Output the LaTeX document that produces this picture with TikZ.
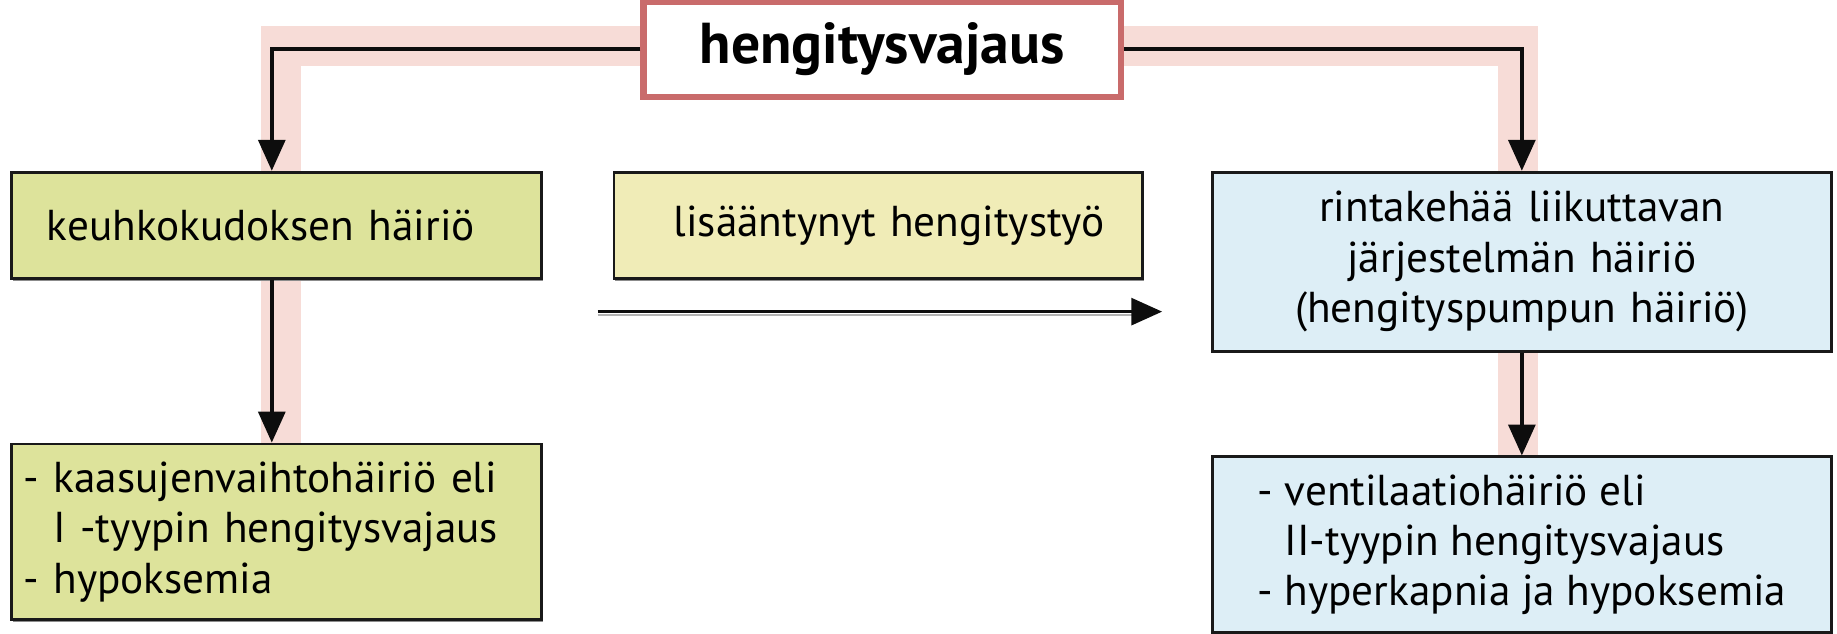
\documentclass[tikz,border=0pt]{standalone}
\usepackage{fontspec}
\setmainfont{PT Sans}
\usetikzlibrary{arrows.meta,shadows,backgrounds}
\definecolor{bandpink}{HTML}{F7DCD7}
\definecolor{titlered}{HTML}{C96B6B}
\definecolor{lunggreen}{HTML}{DDE39B}
\definecolor{workyellow}{HTML}{F0ECB7}
\definecolor{pumpblue}{HTML}{DDEEF6}
\newcommand{\indentby}[1]{\null\hskip#1\relax}
\tikzset{
  box/.style={draw=black!90, line width=1.4pt, inner ysep=0pt, inner xsep=0.2cm,
    font=\fontsize{21}{24.5}\selectfont,
    drop shadow={shadow xshift=0.7pt, shadow yshift=-0.9pt, fill=black!45, opacity=1}},
  titlebox/.style={draw=titlered, line width=3pt, fill=white, inner sep=0pt,
    minimum width=8.15cm, minimum height=1.62cm,
    font=\bfseries\fontsize{28}{32}\selectfont},
  arr/.style={draw=black!95, line width=1.8pt, -{Triangle[length=15pt,width=13pt]}},
  band/.style={draw=bandpink, line width=19.5pt, line join=miter}
}
\begin{document}
\begin{tikzpicture}[x=0.02cm,y=-0.02cm]
\useasboundingbox (0,0) rectangle (1568,541);

% boxes
\node[titlebox] (top) at (753,42) {hengitysvajaus};
\node[box, fill=lunggreen, minimum height=1.82cm,
      text width=8.64cm, align=left] (lung) at (236,192.5)
      {\indentby{0.4cm}keuhkokudoksen häiriö};
\node[box, fill=workyellow, minimum height=1.82cm,
      text width=8.62cm, align=left] (work) at (749.5,192.5)
      {\indentby{0.82cm}lisääntynyt hengitystyö};
\node[box, fill=pumpblue, minimum height=3.06cm,
      text width=10.16cm, align=center] (pump) at (1299,223.5)
      {rintakehää liikuttavan\\järjestelmän häiriö\\(hengityspumpun häiriö)};
\node[box, fill=lunggreen, minimum height=3.0cm,
      text width=8.64cm, align=left] (typeone) at (236,454)
      {- kaasujenvaihtohäiriö eli\\\phantom{- }I -tyypin hengitysvajaus\\- hypoksemia};
\node[box, fill=pumpblue, minimum height=3.0cm, minimum width=10.56cm,
      align=left] (typetwo) at (1299,465)
      {- ventilaatiohäiriö eli\\\phantom{- }II-tyypin hengitysvajaus\\- hyperkapnia ja hypoksemia};

% highlight band behind the connectors
\begin{scope}[on background layer]
\draw[band] ([xshift=0.08cm]typeone.north) -- ([xshift=0.08cm]typeone.north |- 0,39)
  -- ([xshift=-0.06cm]typetwo.north |- 0,39) -- ([xshift=-0.06cm]typetwo.north);
\end{scope}

% connectors
\draw[arr] (top.west) -| ([xshift=-0.08cm]lung.north);
\draw[arr] (top.east) -| (pump.north);
\draw[arr] ([xshift=-0.08cm]lung.south) -- ([xshift=-0.08cm]typeone.north);
\draw[arr] (pump.south) -- (typetwo.north);
\coordinate (wstart) at (510,266);
\coordinate (wend) at (992,266);
\draw[black!30, line width=1pt] ([yshift=-0.05cm]wstart) -- ([yshift=-0.05cm,xshift=-0.4cm]wend);
\draw[arr] (wstart) -- (wend);
\end{tikzpicture}
\end{document}
